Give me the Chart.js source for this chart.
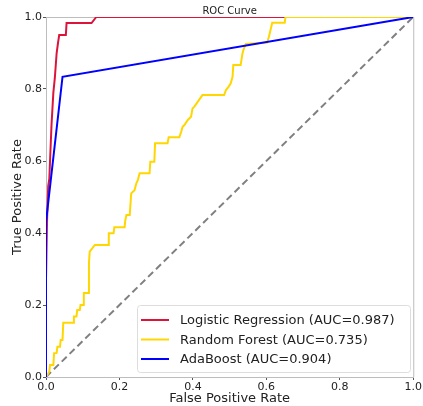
<!DOCTYPE html>
<html>
<head>
<meta charset="utf-8">
<script src="https://cdn.jsdelivr.net/npm/chart.js@4.4.1/dist/chart.umd.min.js"></script>
<style>
  html, body { margin: 0; padding: 0; background: #fff; }
  #wrap { width: 423px; height: 406px; }
</style>
</head>
<body>
<div id="wrap"><canvas id="roc" width="423" height="406"></canvas></div>
<script>
// ROC points (fpr, tpr)
const lrFpr = [0, 0, 0.003, 0.006, 0.009, 0.015, 0.02, 0.024, 0.029, 0.033, 0.036, 0.054, 0.056, 0.124, 0.137, 1];
const lrTpr = [0, 0.27, 0.44, 0.53, 0.55, 0.70, 0.79, 0.83, 0.90, 0.93, 0.95, 0.95, 0.983, 0.983, 1, 1];

const rfFpr = [0, 0.009, 0.011, 0.020, 0.022, 0.029, 0.031, 0.038, 0.040, 0.045, 0.047, 0.074, 0.076, 0.083,
  0.085, 0.092, 0.094, 0.101, 0.103, 0.115, 0.117, 0.119, 0.133, 0.169, 0.171, 0.184, 0.186, 0.214, 0.216,
  0.219, 0.228, 0.232, 0.241, 0.246, 0.250, 0.255, 0.282, 0.284, 0.295, 0.297, 0.331, 0.334, 0.363, 0.368,
  0.372, 0.377, 0.386, 0.395, 0.399, 0.404, 0.426, 0.485, 0.490, 0.497, 0.503, 0.508, 0.510, 0.530, 0.535,
  0.539, 0.544, 0.602, 0.607, 0.616, 0.650, 0.652, 1];
const rfTpr = [0, 0.015, 0.033, 0.033, 0.066, 0.067, 0.084, 0.084, 0.103, 0.103, 0.151, 0.151, 0.168, 0.168,
  0.186, 0.186, 0.200, 0.200, 0.233, 0.233, 0.317, 0.348, 0.367, 0.367, 0.399, 0.399, 0.416, 0.416, 0.436,
  0.450, 0.450, 0.510, 0.519, 0.538, 0.547, 0.566, 0.566, 0.598, 0.598, 0.649, 0.649, 0.666, 0.666, 0.681,
  0.695, 0.700, 0.714, 0.723, 0.746, 0.751, 0.783, 0.783, 0.797, 0.806, 0.816, 0.834, 0.867, 0.867, 0.899,
  0.913, 0.925, 0.929, 0.945, 0.984, 0.984, 1, 1];

const adaFpr = [0, 0, 0.045, 1];
const adaTpr = [0, 0.43, 0.834, 1];

const chanceLine = [0, 1];

const modelNames = ["Logistic Regression (AUC=0.987)", "Random Forest (AUC=0.735)", "AdaBoost (AUC=0.904)"];
const modelColors = ["#dc143c", "#ffd700", "#0000ff"];
const tickValues = [0, 0.2, 0.4, 0.6, 0.8, 1.0];

function pts(xs, ys) {
  return xs.map((x, i) => ({ x: x, y: ys[i] }));
}

const FONT = "'DejaVu Sans', sans-serif";
const TXT = "#222";

// top/right spines under the lines, matplotlib-style legend on top
const extras = {
  id: "extras",
  beforeDatasetsDraw(chart) {
    const ctx = chart.ctx;
    const a = chart.chartArea;
    ctx.save();
    ctx.strokeStyle = "#bdbdbd";
    ctx.lineWidth = 1;
    ctx.beginPath();
    ctx.moveTo(a.left, a.top + 0.5);
    ctx.lineTo(a.right + 0.5, a.top + 0.5);
    ctx.lineTo(a.right + 0.5, a.bottom);
    ctx.stroke();
    ctx.restore();
  },
  afterDatasetsDraw(chart) {
    const ctx = chart.ctx;
    ctx.save();
    const bx = 137, by = 305, bw = 273, bh = 67;
    ctx.fillStyle = "rgba(255,255,255,0.85)";
    ctx.strokeStyle = "#dddddd";
    ctx.lineWidth = 1;
    ctx.beginPath();
    ctx.roundRect(bx + 0.5, by + 0.5, bw, bh, 3);
    ctx.fill();
    ctx.stroke();

    ctx.font = "13px " + FONT;
    ctx.textBaseline = "middle";
    ctx.textAlign = "left";
    for (let i = 0; i < modelNames.length; i++) {
      const yy = by + 15 + i * 19.5;
      ctx.strokeStyle = modelColors[i];
      ctx.lineWidth = 2;
      ctx.beginPath();
      ctx.moveTo(141, yy);
      ctx.lineTo(169, yy);
      ctx.stroke();
      ctx.fillStyle = TXT;
      ctx.fillText(modelNames[i], 180, yy + 1);
    }
    ctx.restore();
  }
};

new Chart(document.getElementById("roc"), {
  type: "scatter",
  data: {
    datasets: [
      {
        label: modelNames[0],
        data: pts(lrFpr, lrTpr),
        borderColor: modelColors[0],
        order: 3
      },
      {
        label: modelNames[1],
        data: pts(rfFpr, rfTpr),
        borderColor: modelColors[1],
        order: 2
      },
      {
        label: modelNames[2],
        data: pts(adaFpr, adaTpr),
        borderColor: modelColors[2],
        order: 1
      },
      {
        label: "chance",
        data: pts(chanceLine, chanceLine),
        borderColor: "#808080",
        borderDash: [7, 4],
        order: 4
      }
    ]
  },
  options: {
    responsive: false,
    animation: false,
    showLine: true,
    layout: { padding: { left: 0, right: 8, top: 0, bottom: 0 } },
    elements: {
      point: { radius: 0, hoverRadius: 0 },
      line: { borderWidth: 2, tension: 0, fill: false }
    },
    plugins: {
      legend: { display: false },
      tooltip: { enabled: false },
      title: {
        display: true,
        text: "ROC Curve",
        fullSize: false,
        color: TXT,
        font: { family: FONT, size: 10, weight: "normal" },
        padding: { top: 5, bottom: 0 }
      }
    },
    scales: {
      x: {
        type: "linear",
        min: 0,
        max: 1,
        afterFit(scale) { scale.height = 29; },
        afterBuildTicks(scale) { scale.ticks = tickValues.map(v => ({ value: v })); },
        border: { display: true, color: "#bdbdbd", width: 1 },
        grid: { drawOnChartArea: false, drawTicks: true, tickLength: 3, tickColor: "#555" },
        ticks: {
          color: TXT,
          padding: 1,
          maxRotation: 0,
          font: { family: FONT, size: 11 },
          callback: v => v.toFixed(1)
        },
        title: {
          display: true,
          text: "False Positive Rate",
          color: TXT,
          font: { family: FONT, size: 13 },
          padding: { top: 0, bottom: 0 }
        }
      },
      y: {
        type: "linear",
        min: 0,
        max: 1,
        afterFit(scale) { scale.width = 46; },
        afterBuildTicks(scale) { scale.ticks = tickValues.map(v => ({ value: v })); },
        border: { display: true, color: "#bdbdbd", width: 1 },
        grid: { drawOnChartArea: false, drawTicks: true, tickLength: 3, tickColor: "#555" },
        ticks: {
          color: TXT,
          padding: 1,
          font: { family: FONT, size: 11 },
          callback: v => v.toFixed(1)
        },
        title: {
          display: true,
          text: "True Positive Rate",
          color: TXT,
          font: { family: FONT, size: 13 },
          padding: { top: 10, bottom: 0 }
        }
      }
    }
  },
  plugins: [extras]
});
</script>
</body>
</html>
